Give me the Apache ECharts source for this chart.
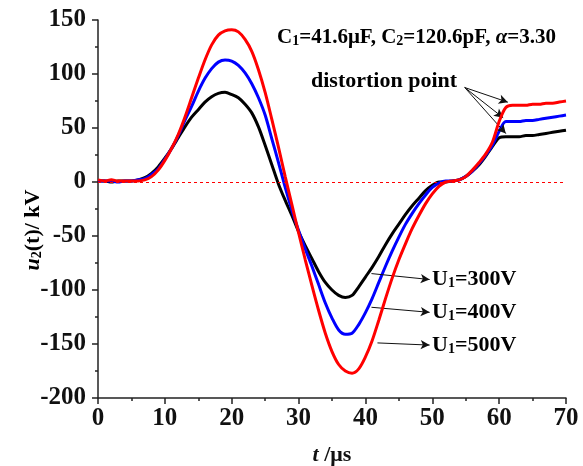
<!DOCTYPE html>
<html>
<head>
<meta charset="utf-8">
<script src="https://cdn.jsdelivr.net/npm/echarts@6/dist/echarts.min.js"></script>
<style>
html,body{margin:0;padding:0;background:#fff;}
#chart{width:583px;height:466px;}
</style>
</head>
<body>
<div id="chart"></div>
<script>
// time axis (µs)
var timeUs = [0,1,2,3,4,5,6,7,8,9,10,11,12,13,14,15,16,17,18,19,20,21,22,23,24,25,26,27,28,29,30,31,32,33,34,35,36,37,38,39,40,41,42,43,44,45,46,47,48,49,50,51,52,53,54,55,56,57,58,59,60,61,62,63,64,65,66,67,68,69,70];
// u2(t) in kV for U1 = 300 V (black)
var u300 = [1,1,0,1,1,1,2,4,8,14,22,31,41,51,60,67,74,79,82,83,81,78,72,64,51,34,16,-2,-17,-31,-46,-59,-71,-83,-93,-100,-105,-107,-105,-97,-88,-79,-69,-58,-48,-39,-30,-22,-15,-8,-3,0,0,1,2,5,10,16,24,33,41,42,42,42,43,43,44,45,46,47,48];
// U1 = 400 V (blue)
var u400 = [1,1,1,0,1,1,2,3,7,12,21,31,43,57,70,84,96,105,111,113,112,108,101,91,78,62,40,18,-5,-26,-45,-62,-78,-95,-112,-126,-137,-141,-140,-132,-121,-108,-93,-78,-64,-51,-39,-29,-20,-12,-5,-1,1,1,2,5,10,17,25,34,47,56,56,56,57,57,58,59,60,61,62];
// U1 = 500 V (red)
var u500 = [2,1,2,1,1,1,1,2,5,11,20,31,44,60,78,96,113,127,136,140,141,139,132,121,104,83,58,32,5,-21,-47,-72,-96,-119,-140,-157,-169,-175,-177,-173,-162,-147,-128,-108,-89,-72,-57,-43,-31,-20,-11,-4,0,1,2,5,11,18,26,37,56,69,71,71,71,72,72,73,73,74,75];

var seriesNames = ['U1=300V','U1=400V','U1=500V'];
var seriesColors = ['#000000','#0000ff','#ff0000'];

// annotation arrows [start, end] in data coordinates
var distortionArrows = [
  [[54.85, 87.5],[61.3, 73.9]],
  [[54.85, 87.5],[60.6, 59.5]],
  [[54.85, 87.5],[61.0, 44.8]]
];
var voltageArrows = [
  [[40.9, -84.8],[49.6, -90.3]],
  [[40.9, -116.0],[49.6, -120.7]],
  [[41.8, -149.0],[49.6, -151.0]]
];
var voltageLabels = ['300V','400V','500V'];

var FONT = 'Liberation Serif';

function pairs(ys){ return timeUs.map(function(t,i){ return [t, ys[i]]; }); }

function arrowLines(list){
  return list.map(function(a){
    return [{coord:a[0]},{coord:a[1]}];
  });
}

var chart = echarts.init(document.getElementById('chart'), null, {renderer:'canvas'});

function richWith(size){
  var sub = Math.round(size*0.65);
  return {
    n:{fontFamily:FONT,fontWeight:'bold',fontSize:size,color:'#111',lineHeight:Math.round(size*1.25),verticalAlign:'bottom'},
    i:{fontFamily:FONT,fontWeight:'bold',fontStyle:'italic',fontSize:size,color:'#111',lineHeight:Math.round(size*1.25),verticalAlign:'bottom'},
    s:{fontFamily:FONT,fontWeight:'bold',fontSize:sub,color:'#111',lineHeight:sub,verticalAlign:'bottom'}
  };
}

var lineSeries = [u300,u400,u500].map(function(ys,k){
  return {
    name: seriesNames[k],
    type:'line',
    data: pairs(ys),
    showSymbol:false,
    smooth:0.3,
    lineStyle:{color:seriesColors[k],width:3},
    itemStyle:{color:seriesColors[k]},
    z: 3+k,
    animation:false
  };
});

// zero reference line
lineSeries[0].markLine = {
  silent:true, symbol:['none','none'], label:{show:false},
  lineStyle:{color:'#ff0000',type:[3,3],width:1},
  data:[{yAxis:0}],
  animation:false
};
// arrow annotation series (no own data)
lineSeries.push({
  type:'line', data:[], silent:true, animation:false,
  markLine:{
    silent:true, symbol:['none','arrow'], symbolSize:[7,9], label:{show:false},
    lineStyle:{color:'#111',width:1,type:'solid'},
    data: arrowLines(distortionArrows).concat(arrowLines(voltageArrows)),
    animation:false
  }
});

var graphics = [
  {type:'text', left:277, top:27, style:{text:'{n|C}{s|1}{n|=41.6μF, C}{s|2}{n|=120.6pF, }{i|α}{n|=3.30}', rich:richWith(21)}},
  {type:'text', left:311, top:70, style:{text:'{n|distortion point}', rich:richWith(22)}},
  {type:'text', x:30, y:230, rotation:Math.PI/2,
   style:{text:'{i|u}{s|2}{n|(t)/ kV}', rich:richWith(22), align:'center', verticalAlign:'middle'}}
];
var labelTops = [268, 301, 334];
voltageLabels.forEach(function(v,k){
  graphics.push({type:'text', left:432, top:labelTops[k], style:{text:'{n|U}{s|1}{n|='+v+'}', rich:richWith(22)}});
});

var axisLabelStyle = {fontFamily:FONT,fontWeight:'bold',fontSize:25,color:'#111'};

chart.setOption({
  backgroundColor:'#ffffff',
  animation:false,
  grid:{left:98,right:17,top:20,bottom:68,containLabel:false,outerBoundsMode:'none'},
  xAxis:{
    type:'value', min:0, max:70, interval:10,
    axisLine:{show:true,onZero:false,lineStyle:{color:'#222',width:1.5}},
    axisTick:{show:true,inside:false,length:6,lineStyle:{color:'#222',width:1.5}},
    minorTick:{show:true,splitNumber:2,length:3,lineStyle:{color:'#222',width:1.5}},
    splitLine:{show:false},
    axisLabel:Object.assign({margin:8},axisLabelStyle),
    name:'{i|t}{n| /μs}', nameLocation:'middle', nameGap:40,
    nameTextStyle:{rich:richWith(22)}
  },
  yAxis:{
    type:'value', min:-200, max:150, interval:50,
    axisLine:{show:true,lineStyle:{color:'#222',width:1.5}},
    axisTick:{show:true,inside:false,length:6,lineStyle:{color:'#222',width:1.5}},
    minorTick:{show:true,splitNumber:2,length:3,lineStyle:{color:'#222',width:1.5}},
    splitLine:{show:false},
    axisLabel:Object.assign({margin:12},axisLabelStyle)
  },
  series: lineSeries,
  graphic: graphics
});
</script>
</body>
</html>
